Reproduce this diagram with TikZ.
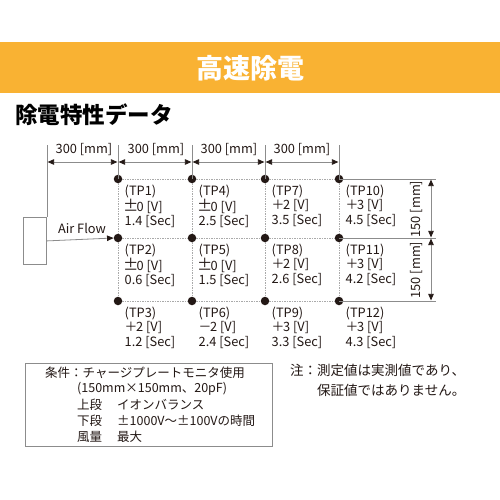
\documentclass[tikz,border=0pt]{standalone}
\usepackage{fontspec}
\usepackage{graphicx}
\setmainfont{Noto Sans CJK JP}
\usetikzlibrary{arrows.meta}
\definecolor{banner}{RGB}{249,178,51}
\definecolor{dotc}{RGB}{35,24,21}
\definecolor{linec}{RGB}{140,140,140}
\definecolor{gridc}{RGB}{170,170,170}
\newcommand{\wpm}{\makebox[12pt]{\scalebox{1.2}{±}}}
\newcommand{\wpl}{\makebox[11.5pt][l]{＋}}
\newcommand{\wmi}{\makebox[11.5pt][l]{－}}
\begin{document}
\begin{tikzpicture}[x=1pt,y=-1pt,
  dotn/.style={circle,fill=dotc,inner sep=0pt,minimum size=8.5pt},
  ext/.style={draw=linec,line width=0.8pt},
  gridl/.style={draw=gridc,line width=0.8pt,dash pattern=on 1.5pt off 1pt},
  dimarr/.style={draw=linec,line width=0.8pt,
    {Triangle[length=6.5pt,width=5.5pt,color=dotc]}-{Triangle[length=6.5pt,width=5.5pt,color=dotc]},
    shorten <=0.6pt, shorten >=0.6pt},
  flowarr/.style={draw=linec,line width=0.8pt,-{Triangle[length=6.5pt,width=5.5pt,color=dotc]}},
  tp/.style={anchor=north west,align=left,inner sep=0pt,text=dotc,
    font=\fontsize{12.8}{14.8}\selectfont},
  lbl/.style={inner sep=0pt,text=dotc,font=\fontsize{12.8}{15}\selectfont},
  note/.style={inner sep=0pt,anchor=west,text=dotc,font=\fontsize{12.5}{15}\selectfont}]
\useasboundingbox (0,0) rectangle (500,500);
\fill[white] (0,0) rectangle (500,500);
% banner
\fill[banner] (0,42) rectangle (500,93);
\node[inner sep=0pt,text=white,font=\fontsize{27}{30}\selectfont\bfseries] (title) at (250,68) {高速除電};
\node[inner sep=0pt,anchor=west,text=black,font=\fontsize{22.5}{26}\selectfont\bfseries] (sub) at (15,115) {除電特性データ};

% coordinates of extension line tops
\coordinate (e0) at (47,145);
\coordinate (e1) at (118,145);
\coordinate (e2) at (192,145);
\coordinate (e3) at (265,145);
\coordinate (e4) at (339,145);
\coordinate (a0) at (47,162);
\coordinate (a1) at (118,162);
\coordinate (a2) at (192,162);
\coordinate (a3) at (265,162);
\coordinate (a4) at (339,162);

% blower box
\node[draw=linec,line width=0.8pt,minimum width=23pt,minimum height=47pt,inner sep=0pt,anchor=north east] (fan) at (47,217) {};

% dots
\foreach \c/\x in {1/118,2/192,3/265,4/339}{
  \foreach \r/\y in {1/179,2/238,3/301}{
    \node[dotn] (d\c\r) at (\x,\y) {};
  }
}

% right extension coordinates
\coordinate (r1) at (436,179);
\coordinate (r2) at (436,238);
\coordinate (r3) at (436,301);
\coordinate (v1) at (431,179);
\coordinate (v2) at (431,238);
\coordinate (v3) at (431,301);

% grid lines (dotted)
\foreach \r in {1,2,3}{
  \draw[gridl] (d1\r) -- (d2\r) -- (d3\r) -- (d4\r);
}
\foreach \c in {1,2,3,4}{
  \draw[gridl] (d\c1) -- (d\c2) -- (d\c3);
}

% extension lines
\draw[ext] (e0) -- (fan.north east);
\draw[ext] (e1) -- (d11.center);
\draw[ext] (e2) -- (d21.center);
\draw[ext] (e3) -- (d31.center);
\draw[ext] (e4) -- (d41.center);
\draw[ext] (d41.center) -- (r1);
\draw[ext] (d42.center) -- (r2);
\draw[ext] (d43.center) -- (r3);

% dimension arrows
\draw[dimarr] (a0) -- (a1);
\draw[dimarr] (a1) -- (a2);
\draw[dimarr] (a2) -- (a3);
\draw[dimarr] (a3) -- (a4);
\draw[dimarr] (v1) -- (v2);
\draw[dimarr] (v2) -- (v3);

\node[lbl] (m1) at (84,150) {300 [mm]};
\node[lbl] (m2) at (156,150) {300 [mm]};
\node[lbl] (m3) at (229,150) {300 [mm]};
\node[lbl] (m4) at (302,150) {300 [mm]};
\node[lbl,rotate=90] (m5) at (417,209) {150 [mm]};
\node[lbl,rotate=90] (m6) at (417,270) {150 [mm]};

% air flow
\draw[flowarr] (fan.east) -- (d12.west);
\node[lbl] (af) at (82,228) {Air Flow};

% test point labels
\node[tp] (t1) at ([xshift=6.5pt,yshift=-5.5pt]d11.center) {(TP1)\\\wpm0 [V]\\1.4 [Sec]};
\node[tp] (t2) at ([xshift=6.5pt,yshift=-5.5pt]d12.center) {(TP2)\\\wpm0 [V]\\0.6 [Sec]};
\node[tp] (t3) at ([xshift=6.5pt,yshift=-5.5pt]d13.center) {(TP3)\\\wpl2 [V]\\1.2 [Sec]};
\node[tp] (t4) at ([xshift=6.5pt,yshift=-5.5pt]d21.center) {(TP4)\\\wpm0 [V]\\2.5 [Sec]};
\node[tp] (t5) at ([xshift=6.5pt,yshift=-5.5pt]d22.center) {(TP5)\\\wpm0 [V]\\1.5 [Sec]};
\node[tp] (t6) at ([xshift=6.5pt,yshift=-5.5pt]d23.center) {(TP6)\\\wmi2 [V]\\2.4 [Sec]};
\node[tp] (t7) at ([xshift=6.5pt,yshift=-5.5pt]d31.center) {(TP7)\\\wpl2 [V]\\3.5 [Sec]};
\node[tp] (t8) at ([xshift=6.5pt,yshift=-5.5pt]d32.center) {(TP8)\\\wpl2 [V]\\2.6 [Sec]};
\node[tp] (t9) at ([xshift=6.5pt,yshift=-5.5pt]d33.center) {(TP9)\\\wpl3 [V]\\3.3 [Sec]};
\node[tp] (t10) at ([xshift=6.5pt,yshift=-5.5pt]d41.center) {(TP10)\\\wpl3 [V]\\4.5 [Sec]};
\node[tp] (t11) at ([xshift=6.5pt,yshift=-5.5pt]d42.center) {(TP11)\\\wpl3 [V]\\4.2 [Sec]};
\node[tp] (t12) at ([xshift=6.5pt,yshift=-5.5pt]d43.center) {(TP12)\\\wpl3 [V]\\4.3 [Sec]};

% conditions box
\draw[ext] (25,363) rectangle (272,446);
\node[note] (c1) at (45,373) {条件：チャージプレートモニタ使用};
\node[note] (c2) at (77,389) {(150mm×150mm、20pF)};
\node[note] (c3) at (77,405) {上段};
\node[note] (c3b) at (117,405) {イオンバランス};
\node[note] (c4) at (77,421) {下段};
\node[note] (c4b) at (117,421) {±1000V～±100Vの時間};
\node[note] (c5) at (77,437) {風量};
\node[note] (c5b) at (117,437) {最大};

% note
\node[note,font=\fontsize{13.5}{16}\selectfont] (n1) at (290,370) {注：測定値は実測値であり、};
\node[note,font=\fontsize{13.5}{16}\selectfont] (n2) at (317,390) {保証値ではありません。};
\end{tikzpicture}
\end{document}
